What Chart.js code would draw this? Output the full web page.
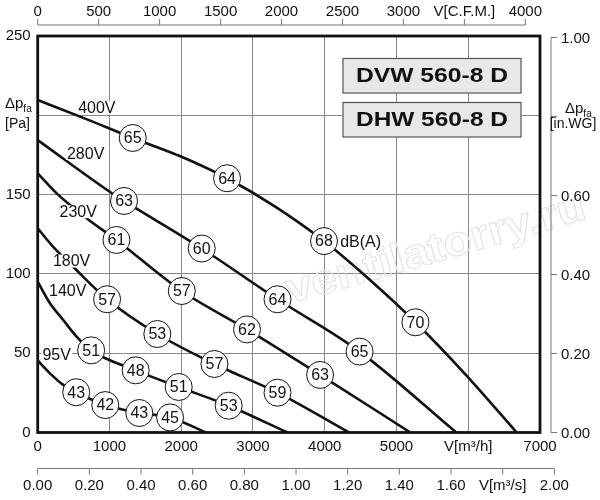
<!DOCTYPE html>
<html>
<head>
<meta charset="utf-8">
<script src="https://cdn.jsdelivr.net/npm/chart.js@4.4.0/dist/chart.umd.min.js"></script>
<style>
  html, body { margin: 0; padding: 0; background: #fff; }
  #caixa { width: 600px; height: 500px; }
</style>
</head>
<body>
<div id="caixa"><canvas id="grafico"></canvas></div>
<script>
// Curvas do ventilador: vazão [m3/h], pressão [Pa], nível sonoro dB(A) nos círculos
const curveNames = ['400V', '280V', '230V', '180V', '140V', '95V'];

const flow400 = [0, 662, 1324, 1980, 2639, 3315, 3990, 4627, 5264, 5970, 6675];
const press400 = [209.6, 197.9, 185.7, 174.3, 160.3, 142.3, 120.7, 96.3, 69.5, 36.2, 0];
const dB400 = [null, null, 65, null, 64, null, 68, null, 70, null, null];

const flow280 = [0, 1004, 1203, 2286, 3342, 4486, 5833];
const press280 = [184.4, 151.8, 146, 116, 84, 51, 0];
const dB280 = [null, null, 63, 60, 64, 65, null];

const flow230 = [0, 264, 681, 1097, 2008, 2917, 3935, 5194];
const press230 = [163.4, 150.8, 135.1, 121.4, 89.2, 65, 36.3, 0];
const dB230 = [null, null, null, 61, 57, 62, 63, null];

const flow180 = [0, 194, 494, 967, 1667, 2463, 3342, 4338];
const press180 = [128.7, 118.2, 104.5, 84, 62.1, 43.2, 25.1, 0];
const dB180 = [null, null, null, 57, 53, 57, 59, null];

const flow140 = [0, 171, 356, 542, 745, 1365, 1965, 2661, 3481];
const press140 = [95.1, 81.5, 70.9, 60.4, 51.8, 39.2, 28.7, 16.9, 0];
const dB140 = [null, null, null, null, 51, 48, 51, 53, null];

const flow95 = [0, 171, 356, 537, 942, 1416, 1845, 2347];
const press95 = [45.4, 37.3, 30, 25.4, 17.3, 12.3, 9.5, 0];
const dB95 = [null, null, null, 43, 42, 43, 45, null];

// posição dos rótulos de tensão (em unidades do gráfico)
const labelFlow = [824, 668, 564, 472, 418, 264];
const labelPress = [204.9, 176, 139.2, 108.1, 89.3, 49.4];

// eixos
const xTicksM3h = [0, 1000, 2000, 3000, 4000, 5000, 6000, 7000];
const yTicksPa = [0, 50, 100, 150, 200, 250];
const cfmTicks = ['0', '500', '1000', '1500', '2000', '2500', '3000', 'V[C.F.M.]', '4000'];
const m3sTicks = ['0.00', '0.20', '0.40', '0.60', '0.80', '1.00', '1.20', '1.40', '1.60', 'V[m³/s]', '2.00'];
const inwgTicks = ['0.00', '0.20', '0.40', '0.60', '', '1.00'];

const FONTE = '"Liberation Sans", Arial, Helvetica, sans-serif';

let allFlows = [flow400, flow280, flow230, flow180, flow140, flow95];
let allPress = [press400, press280, press230, press180, press140, press95];
let allDB = [dB400, dB280, dB230, dB180, dB140, dB95];

let datasets = curveNames.map(function(nome, i) {
    let db = allDB[i];
    return {
        label: nome,
        data: allFlows[i].map(function(q, k) { return { x: q, y: allPress[i][k] }; }),
        borderColor: '#111',
        borderWidth: 2.6,
        cubicInterpolationMode: 'monotone',
        pointRadius: function(ctx) { return db[ctx.dataIndex] != null ? 13.5 : 0; },
        pointBackgroundColor: '#fff',
        pointBorderColor: '#111',
        pointBorderWidth: 1,
        fill: false
    };
});

// Desenha textos, eixos secundários e moldura
const extras = {
    id: 'extras',
    beforeDatasetsDraw(chart) {
        let ctx = chart.ctx;
        ctx.save();
        // marca d'água
        ctx.translate(436, 250);
        ctx.rotate(-16 * Math.PI / 180);
        ctx.font = 'bold 42px ' + FONTE;
        let w = ctx.measureText('ventilatorry.ru').width;
        ctx.scale(310 / w, 1);
        ctx.strokeStyle = '#e2e2e2';
        ctx.lineWidth = 1;
        ctx.textAlign = 'center';
        ctx.textBaseline = 'middle';
        ctx.strokeText('ventilatorry.ru', 0, 0);
        ctx.restore();

        // caixas de título
        ctx.save();
        let titulos = ['DVW 560-8 D', 'DHW 560-8 D'];
        let topos = [58.5, 102.5];
        titulos.forEach(function(t, i) {
            ctx.fillStyle = '#e8e8e8';
            ctx.strokeStyle = '#555';
            ctx.lineWidth = 1.2;
            ctx.fillRect(343, topos[i], 178, 34.5);
            ctx.strokeRect(343, topos[i], 178, 34.5);
            ctx.save();
            ctx.font = 'bold 21px ' + FONTE;
            let tw = ctx.measureText(t).width;
            ctx.translate(432, topos[i] + 18);
            ctx.scale(152 / tw, 1);
            ctx.fillStyle = '#111';
            ctx.textAlign = 'center';
            ctx.textBaseline = 'middle';
            ctx.fillText(t, 0, 0);
            ctx.restore();
        });
        ctx.restore();
    },
    afterDatasetsDraw(chart) {
        let ctx = chart.ctx;
        let xs = chart.scales.x, ys = chart.scales.y;
        ctx.save();
        ctx.textAlign = 'center';
        ctx.textBaseline = 'middle';
        // números nos círculos
        ctx.font = '16px ' + FONTE;
        ctx.fillStyle = '#111';
        allDB.forEach(function(db, i) {
            db.forEach(function(v, k) {
                if (v == null) return;
                ctx.fillText(String(v), xs.getPixelForValue(allFlows[i][k]), ys.getPixelForValue(allPress[i][k]) + 1);
            });
        });
        // rótulos de tensão
        curveNames.forEach(function(nome, i) {
            let px = xs.getPixelForValue(labelFlow[i]);
            let py = ys.getPixelForValue(labelPress[i]);
            let w = ctx.measureText(nome).width;
            ctx.fillStyle = '#fff';
            ctx.fillRect(px - w / 2 - 1, py - 6.5, w + 2, 13);
            ctx.fillStyle = '#111';
            ctx.fillText(nome, px, py + 1);
        });
        ctx.fillText('dB(A)', xs.getPixelForValue(4500), ys.getPixelForValue(120.3) + 1);
        ctx.restore();
    },
    afterDraw(chart) {
        let ctx = chart.ctx;
        let a = chart.chartArea;
        let xs = chart.scales.x, ys = chart.scales.y;
        ctx.save();
        ctx.strokeStyle = '#777';
        ctx.fillStyle = '#111';
        ctx.lineWidth = 1;
        ctx.font = '15px ' + FONTE;

        // eixo superior C.F.M.
        let yTop = a.top - 11;
        ctx.beginPath();
        ctx.moveTo(xs.getPixelForValue(0), yTop);
        ctx.lineTo(xs.getPixelForValue(4000 * 1.699), yTop);
        ctx.stroke();
        ctx.textAlign = 'center';
        ctx.textBaseline = 'middle';
        cfmTicks.forEach(function(t, i) {
            let px = xs.getPixelForValue(i * 500 * 1.699);
            ctx.beginPath();
            ctx.moveTo(px, yTop);
            ctx.lineTo(px, yTop - 6);
            ctx.stroke();
            ctx.fillText(t, px, yTop - 13);
        });

        // eixo inferior m3/s
        let yBot = a.bottom + 36;
        ctx.beginPath();
        ctx.moveTo(xs.getPixelForValue(0), yBot);
        ctx.lineTo(xs.getPixelForValue(2 * 3600), yBot);
        ctx.stroke();
        m3sTicks.forEach(function(t, i) {
            let px = xs.getPixelForValue(i * 0.2 * 3600);
            ctx.beginPath();
            ctx.moveTo(px, yBot);
            ctx.lineTo(px, yBot + 6);
            ctx.stroke();
            ctx.fillText(t, px, yBot + 17);
        });

        // eixo direito in.WG
        let xR = a.right + 11;
        ctx.beginPath();
        ctx.moveTo(xR, ys.getPixelForValue(0));
        ctx.lineTo(xR, ys.getPixelForValue(249.09));
        ctx.stroke();
        ctx.textAlign = 'left';
        inwgTicks.forEach(function(t, i) {
            let py = ys.getPixelForValue(i * 0.2 * 249.09);
            ctx.beginPath();
            ctx.moveTo(xR, py);
            ctx.lineTo(xR + 6, py);
            ctx.stroke();
            ctx.fillText(t, xR + 10, py + 1);
        });

        // títulos dos eixos de pressão
        ctx.textBaseline = 'alphabetic';
        ctx.font = '15px ' + FONTE;
        ctx.fillText('\u0394p', 5, 108);
        let d = ctx.measureText('\u0394p').width;
        ctx.font = '10px ' + FONTE;
        ctx.fillText('fa', 5 + d, 112);
        ctx.font = '14px ' + FONTE;
        ctx.fillText('[Pa]', 5, 128);

        ctx.font = '15px ' + FONTE;
        ctx.fillText('\u0394p', 565, 113);
        d = ctx.measureText('\u0394p').width;
        ctx.font = '10px ' + FONTE;
        ctx.fillText('fa', 565 + d, 117);
        ctx.font = '14px ' + FONTE;
        ctx.textAlign = 'center';
        ctx.fillText('[in.WG]', 573, 128);

        // moldura da área do gráfico
        ctx.strokeStyle = '#111';
        ctx.lineWidth = 2.8;
        ctx.strokeRect(a.left, a.top, a.right - a.left, a.bottom - a.top);
        ctx.restore();
    }
};

function criarGrafico() {
    let ctx = document.getElementById('grafico').getContext('2d');
    new Chart(ctx, {
        type: 'line',
        data: { datasets: datasets },
        options: {
            responsive: true,
            maintainAspectRatio: false,
            animation: false,
            layout: { padding: { left: 0, top: 36, right: 60, bottom: 37.5 } },
            plugins: { legend: { display: false }, tooltip: { enabled: false } },
            scales: {
                x: {
                    type: 'linear',
                    min: 0,
                    max: 7000,
                    afterBuildTicks: function(s) { s.ticks = xTicksM3h.map(function(v) { return { value: v }; }); },
                    afterFit: function(s) { s.height = 30; },
                    ticks: {
                        color: '#111',
                        font: { size: 15, family: FONTE },
                        padding: 5,
                        maxRotation: 0,
                        callback: function(v) { return v === 6000 ? 'V[m³/h]' : String(v); }
                    },
                    grid: { color: '#888', lineWidth: 1, drawTicks: false },
                    border: { display: false }
                },
                y: {
                    min: 0,
                    max: 250,
                    afterBuildTicks: function(s) { s.ticks = yTicksPa.map(function(v) { return { value: v }; }); },
                    afterFit: function(s) { s.width = 37.7; },
                    ticks: {
                        color: '#111',
                        font: { size: 15, family: FONTE },
                        padding: 7,
                        callback: function(v) { return v === 200 ? '' : String(v); }
                    },
                    grid: { color: '#888', lineWidth: 1, drawTicks: false },
                    border: { display: false }
                }
            }
        },
        plugins: [extras]
    });
}

document.addEventListener('DOMContentLoaded', criarGrafico);
</script>
</body>
</html>
